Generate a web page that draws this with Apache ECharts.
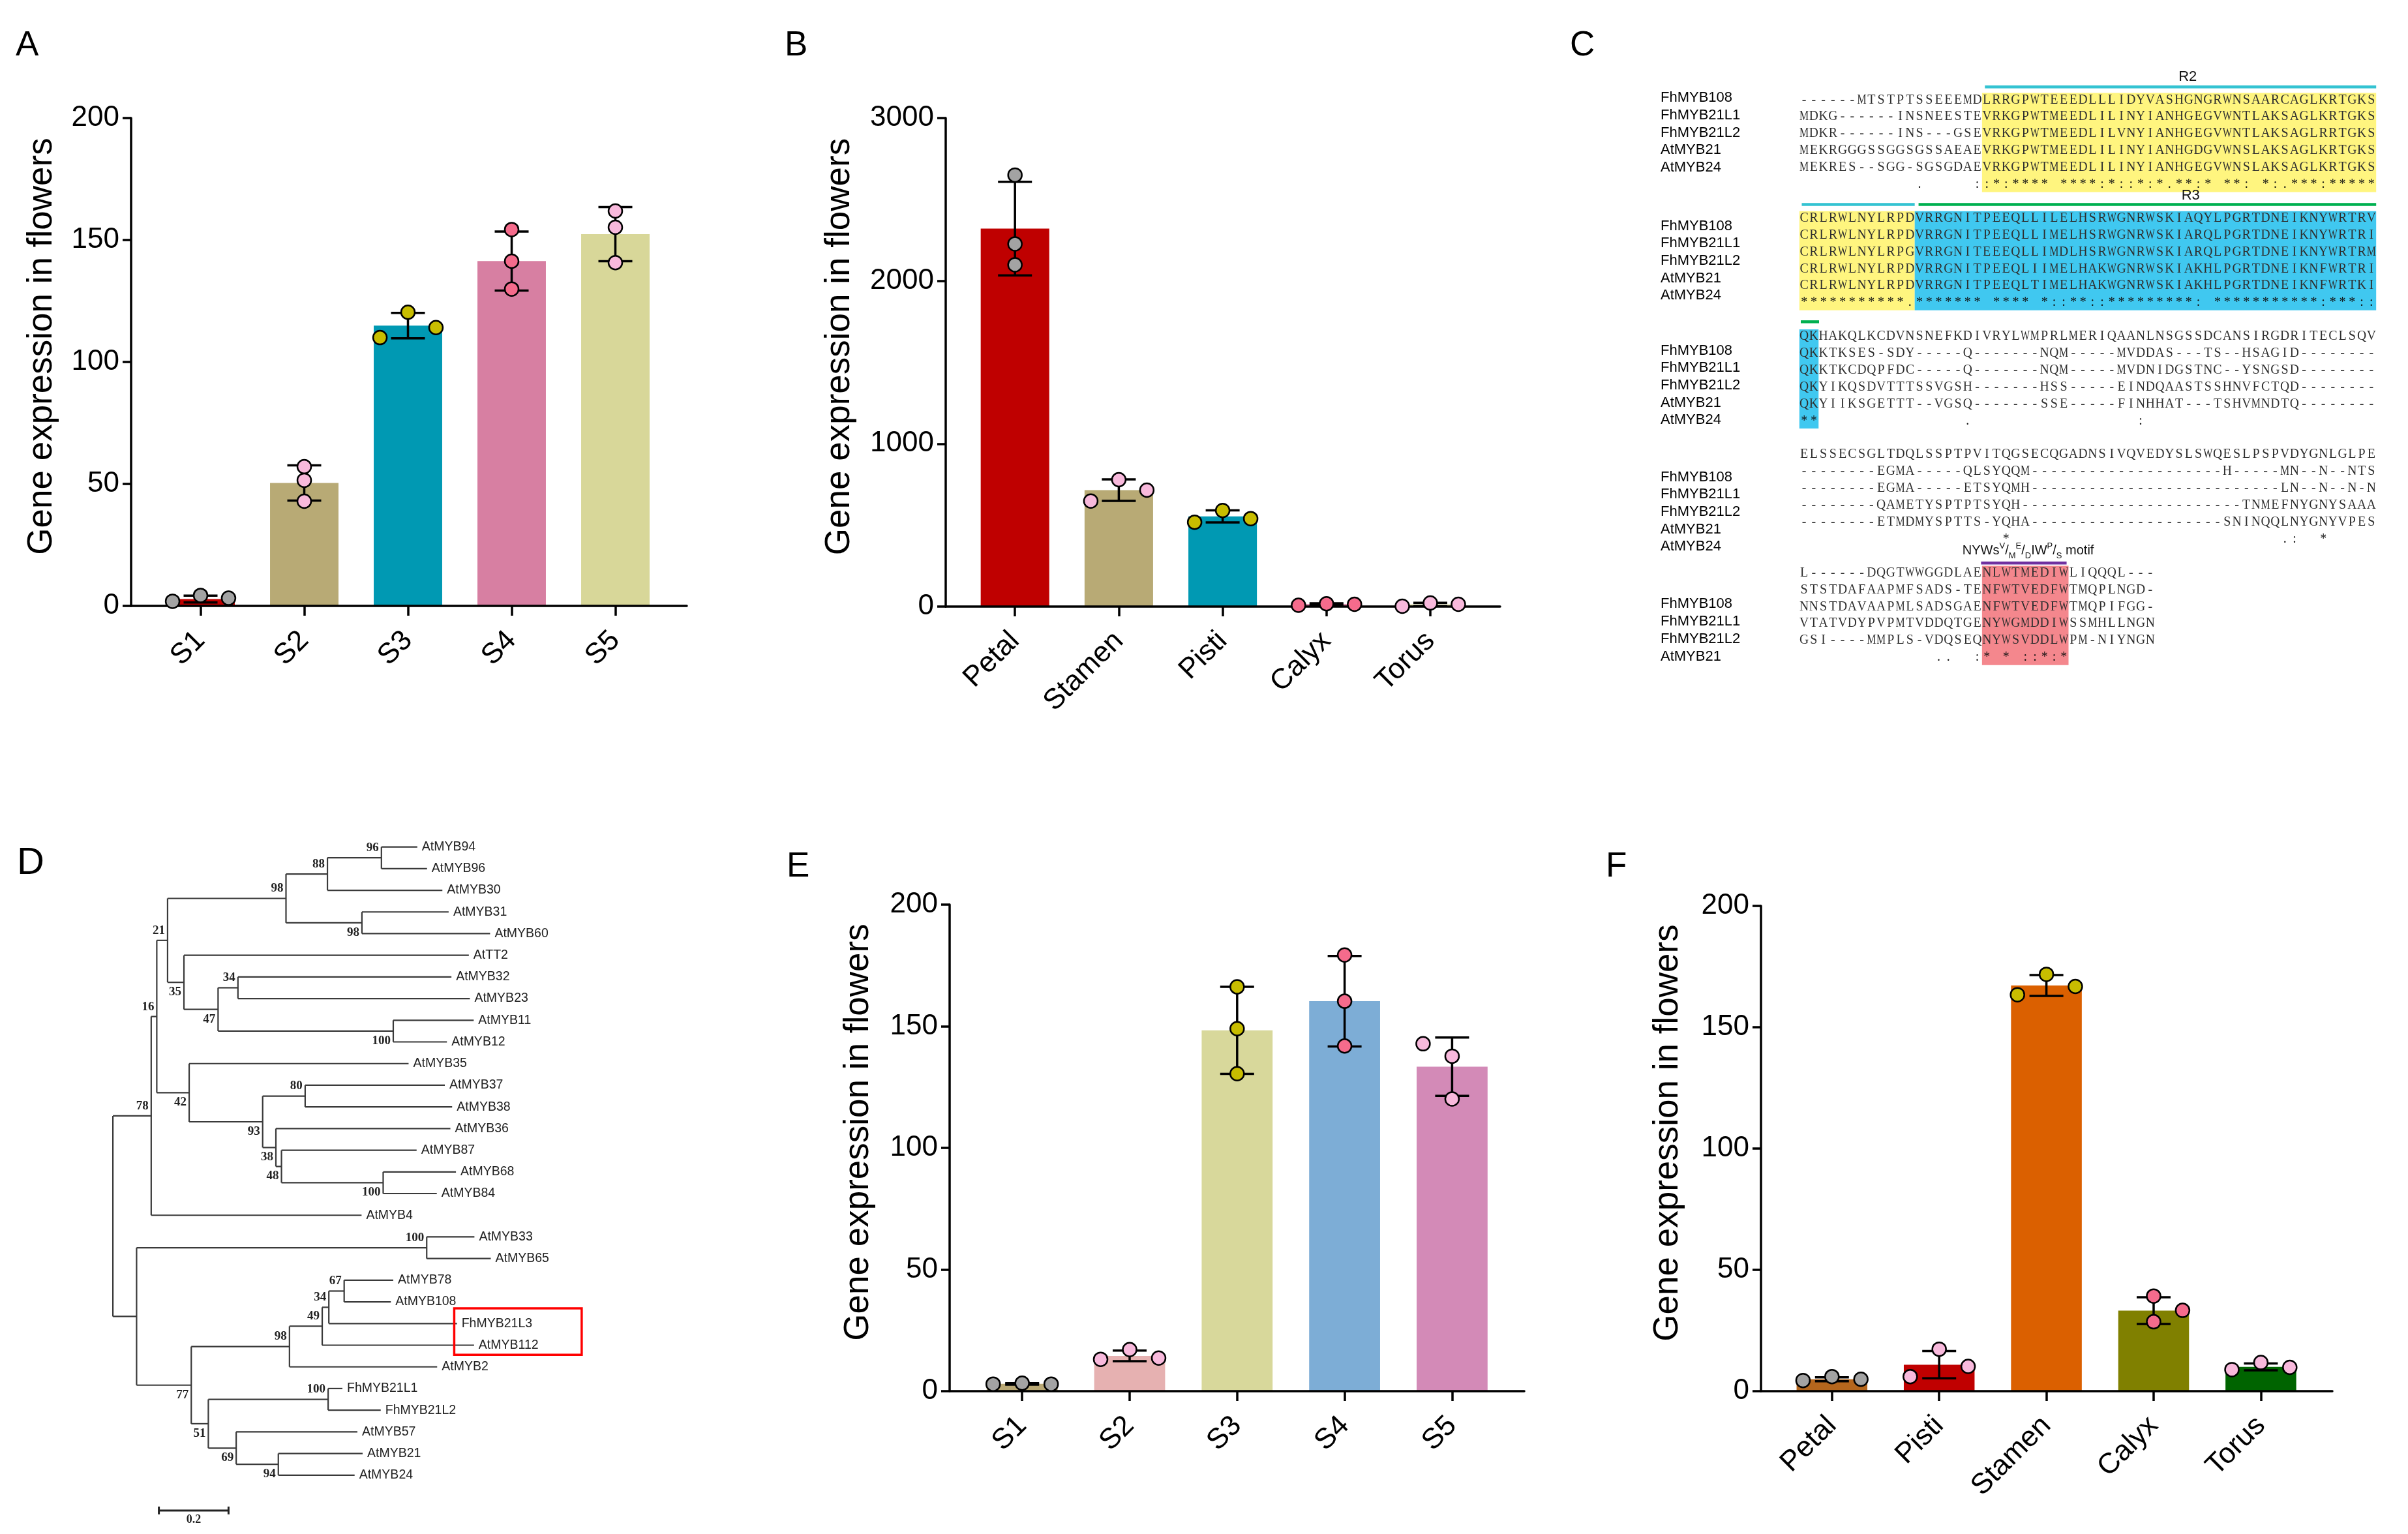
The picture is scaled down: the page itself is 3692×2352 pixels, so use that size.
<!DOCTYPE html>
<html>
<head>
<meta charset="utf-8">
<title>MYB21 expression, alignment and tree</title>
<script src="https://cdn.jsdelivr.net/npm/echarts@6/dist/echarts.min.js"></script>
</head>
<body style="margin:0;background:#fff">
<div id="main" style="width:3692px;height:2352px"></div>
<script>
var FONT = 'Liberation Sans';

// ---------- bar chart data ----------
var stageCats = ['S1', 'S2', 'S3', 'S4', 'S5'];
var tissueCatsB = ['Petal', 'Stamen', 'Pisti', 'Calyx', 'Torus'];
var tissueCatsF = ['Petal', 'Pisti', 'Stamen', 'Calyx', 'Torus'];

var meanA = [2.8, 50.4, 114.9, 141.4, 152.4];
var sdA = [1.4, 7.2, 5.2, 12.1, 11.1];
var repsA = [[1.9, 4.3, 3.2], [57.1, 51.5, 42.9], [120.4, 114.1, 110.0], [154.3, 141.3, 129.9], [161.9, 155.2, 140.7]];

var meanB = [2321, 715, 554, 15, 13];
var sdB = [287, 66, 37, 5, 10];
var repsB = [[2650, 2227, 2099], [648, 779, 715], [518, 590, 540], [8, 17, 14], [2, 22, 14]];

var meanE = [3.0, 14.5, 148.3, 160.3, 133.4];
var sdE = [0.3, 2.2, 17.9, 18.6, 12.0];
var repsE = [[2.9, 3.3, 2.9], [13.1, 17.1, 13.6], [166.2, 149.0, 130.5], [179.3, 160.3, 141.9], [142.8, 137.7, 120.1]];

var meanF = [4.9, 10.9, 167.2, 33.2, 10.0];
var sdF = [0.8, 5.6, 4.3, 5.5, 1.4];
var repsF = [[4.4, 6.0, 4.9], [6.0, 17.3, 10.2], [163.4, 171.8, 166.8], [39.2, 28.6, 33.3], [8.9, 11.8, 9.8]];

// y axis ticks: max and step
var yAxisA = [200, 50], yAxisB = [3000, 1000], yAxisE = [200, 50], yAxisF = [200, 50];

// where each replicate dot sits in its band (-1 left, 0 middle, 1 right)
var jitA = [[-1, 0, 1], [0, 0, 0], [0, 1, -1], [0, 0, 0], [0, 0, 0]];
var jitB = [[0, 0, 0], [-1, 0, 1], [-1, 0, 1], [-1, 0, 1], [-1, 0, 1]];
var jitE = [[-1, 0, 1], [-1, 0, 1], [0, 0, 0], [0, 0, 0], [-1, 0, 0]];
var jitF = [[-1, 0, 1], [-1, 0, 1], [-1, 0, 1], [0, 0, 1], [-1, 0, 1]];

var barColA = ['#c00000', '#b8aa75', '#0099b3', '#d77fa2', '#d8d799'];
var barColB = ['#bf0000', '#b8aa75', '#0099b3', '#d77fa2', '#d8d799'];
var barColE = ['#b9a874', '#e6b1b1', '#d8d89b', '#7dadd6', '#d38ab7'];
var barColF = ['#b4661d', '#c00000', '#db6000', '#808000', '#006400'];
var dotCol = ['#a3a3a3', '#f8b9dc', '#c8bd00', '#f56b8c', '#f8b9dc'];

// ---------- alignment (panel C) ----------
var alnNames = ['FhMYB108', 'FhMYB21L1', 'FhMYB21L2', 'AtMYB21', 'AtMYB24'];
var alnBlock1 = [
  '------MTSTPTSSEEEMDLRRGPWTEEEDLLLIDYVASHGNGRWNSAARCAGLKRTGKS',
  'MDKG------INSNEESTEVRKGPWTMEEDLILINYIANHGEGVWNTLAKSAGLKRTGKS',
  'MDKR------INS---GSEVRKGPWTMEEDLILVNYIANHGEGVWNTLAKSAGLRRTGKS',
  'MEKRGGGSSGGSGSSAEAEVRKGPWTMEEDLILINYIANHGDGVWNSLAKSAGLKRTGKS',
  'MEKRES--SGG-SGSGDAEVRKGPWTMEEDLILINYIANHGEGVWNSLAKSAGLKRTGKS'];
var alnCons1 = '            .     ::*:**** ****:*::*:*.**:* **: *:.***:*****';
var alnBlock2 = [
  'CRLRWLNYLRPDVRRGNITPEEQLLILELHSRWGNRWSKIAQYLPGRTDNEIKNYWRTRV',
  'CRLRWLNYLRPDVRRGNITPEEQLLIMELHSRWGNRWSKIARQLPGRTDNEIKNYWRTRI',
  'CRLRWLNYLRPGVRRGNITEEEQLLIMDLHSRWGNRWSKIARQLPGRTDNEIKNYWRTRM',
  'CRLRWLNYLRPDVRRGNITPEEQLIIMELHAKWGNRWSKIAKHLPGRTDNEIKNFWRTRI',
  'CRLRWLNYLRPDVRRGNITPEEQLTIMELHAKWGNRWSKIAKHLPGRTDNEIKNFWRTKI'];
var alnCons2 = '***********.******* **** *::**::*********: ***********:***::';
var alnBlock3 = [
  'QKHAKQLKCDVNSNEFKDIVRYLWMPRLMERIQAANLNSGSSDCANSIRGDRITECLSQV',
  'QKKTKSES-SDY-----Q-------NQM-----MVDDAS---TS--HSAGID--------',
  'QKKTKCDQPFDC-----Q-------NQM-----MVDNIDGSTNC--YSNGSD--------',
  'QKYIKQSDVTTTSSVGSH-------HSS-----EINDQAASTSSHNVFCTQD--------',
  'QKYIIKSGETTT--VGSQ-------SSE-----FINHHAT---TSHVMNDTQ--------'];
var alnCons3 = '**               .                 :';
var alnBlock4 = [
  'ELSSECSGLTDQLSSPTPVITQGSECQGADNSIVQVEDYSLSWQESLPSPVDYGNLGLPE',
  '--------EGMA-----QLSYQQM' + '----------' + '----------' + 'H-----MN--N--NTS',
  '--------EGMA-----ETSYQMH' + '----------' + '----------' + '------' + 'LN--N--N-N',
  '--------QAMETYSPTPTSYQH' + '----------' + '----------' + '---' + 'TNMEFNYGNYSAAA',
  '--------ETMDMYSPTTS-YQHA' + '----------' + '----------' + 'SNINQQLNYGNYVPES'];
var alnCons4 = '                     *                            .:  *';
var alnBlock5 = [
  'L------DQGTWWGGDLAENLWTMEDIWLIQQQL---',
  'STSTDAFAAPMFSADS-TENFWTVEDFWTMQPLNGD-',
  'NNSTDAVAAPMLSADSGAENFWTVEDFWTMQPIFGG-',
  'VTATVDYPVPMTVDDQTGENYWGMDDIWSSMHLLNGN',
  'GSI----MMPLS-VDQSEQNYWSVDDLWPM-NIYNGN'];
var alnCons5 = '              ..  :* * ::*:*';
// shaded column ranges: [block, fromCol, toCol, colour]
var alnShade = [[0, 19, 60, '#fff57f'], [1, 0, 12, '#fff57f'], [1, 12, 60, '#40c8f0'], [2, 0, 2, '#40c8f0'], [4, 19, 28, '#f4878d']];
// domain bars: [block, fromCol, toCol, colour]
var alnDomains = [[0, 19.3, 60, '#34c3d2'], [1, 0.25, 12, '#34c3d2'], [1, 12.4, 60, '#00b050'], [2, 0.15, 2.05, '#00b050'], [4, 18.9, 27.8, '#7030a0']];

// ---------- phylogenetic tree (panel D) ----------
var treeNewick =
  '(((((((AtMYB94:0.103,AtMYB96:0.131)96:0.155,AtMYB30:0.330)88:0.119,' +
  '(AtMYB31:0.249,AtMYB60:0.368)98:0.218)98:0.340,' +
  '(AtTT2:0.818,((AtMYB32:0.613,AtMYB23:0.666)34:0.057,' +
  '(AtMYB11:0.231,AtMYB12:0.154)100:0.503)47:0.098)35:0.047)21:0.031,' +
  '(AtMYB35:0.630,((AtMYB37:0.401,AtMYB38:0.422)80:0.122,' +
  '(AtMYB36:0.501,(AtMYB87:0.388,(AtMYB68:0.209,AtMYB84:0.154)100:0.292)48:0.016)38:0.038)93:0.211)42:0.093)16:0.016,' +
  'AtMYB4:0.604)78:0.110,' +
  '((AtMYB33:0.137,AtMYB65:0.184)100:0.833,' +
  '(((((AtMYB78:0.141,AtMYB108:0.134)67:0.044,FhMYB21L3:0.368)34:0.019,AtMYB112:0.436)49:0.094,AtMYB2:0.424)98:0.282,' +
  '((FhMYB21L1:0.041,FhMYB21L2:0.151)100:0.344,(AtMYB57:0.348,(AtMYB21:0.242,AtMYB24:0.219)94:0.121)69:0.080)51:0.049)77:0.157):0.068);';
var boxedLeaves = ['FhMYB21L3', 'AtMYB112'];

[alnBlock1, alnBlock2, alnBlock3, alnBlock4].forEach(function (b) {
  b.forEach(function (s) { if (s.length !== 60) throw new Error('bad row ' + s); });
});
alnBlock5.forEach(function (s) { if (s.length !== 37) throw new Error('bad row ' + s); });

function parseNewick(s) {
  var i = 0;
  function node() {
    var n = { children: [], name: '', len: 0 };
    if (s[i] === '(') {
      i++;
      n.children.push(node());
      while (s[i] === ',') { i++; n.children.push(node()); }
      i++;
    }
    var j = i;
    while (i < s.length && ':,);'.indexOf(s[i]) < 0) i++;
    n.name = s.slice(j, i);
    if (s[i] === ':') {
      i++; j = i;
      while (i < s.length && ',);'.indexOf(s[i]) < 0) i++;
      n.len = parseFloat(s.slice(j, i));
    }
    return n;
  }
  return node();
}
var treeRoot = parseNewick(treeNewick);
var leafNo = 0;
function layoutTree(n, depth) {
  n.x = depth + n.len;
  if (!n.children.length) {
    n.y = leafNo++;
  } else {
    n.children.forEach(function (c) { layoutTree(c, n.x); });
    n.y = (n.children[0].y + n.children[n.children.length - 1].y) / 2;
  }
}
layoutTree(treeRoot, 0);

// ---------- bar panels ----------
var panels = [
  { cats: stageCats, mean: meanA, sd: sdA, reps: repsA, jit: jitA, bar: barColA, y: yAxisA,
    frame: [201, 181, 852, 748], band: [228, 795], gap: 110 },
  { cats: tissueCatsB, mean: meanB, sd: sdB, reps: repsB, jit: jitB, bar: barColB, y: yAxisB,
    frame: [1450, 181, 850, 749], band: [1476.6, 796], gap: 136 },
  { cats: stageCats, mean: meanE, sd: sdE, reps: repsE, jit: jitE, bar: barColE, y: yAxisE,
    frame: [1456, 1387, 881, 746], band: [1484.8, 824], gap: 113 },
  { cats: tissueCatsF, mean: meanF, sd: sdF, reps: repsF, jit: jitF, bar: barColF, y: yAxisF,
    frame: [2700, 1389, 876, 744], band: [2726.6, 822], gap: 116 }
];

function errRender(params, api) {
  var x = api.value(0), m = api.value(1), s = api.value(2);
  var top = api.coord([x, m + s]);
  var bot = api.coord([x, m - s]);
  var hw = 26;
  var st = { stroke: '#000', lineWidth: 3.5 };
  return { type: 'group', children: [
    { type: 'line', shape: { x1: top[0], y1: top[1], x2: bot[0], y2: bot[1] }, style: st },
    { type: 'line', shape: { x1: top[0] - hw, y1: top[1], x2: top[0] + hw, y2: top[1] }, style: st },
    { type: 'line', shape: { x1: bot[0] - hw, y1: bot[1], x2: bot[0] + hw, y2: bot[1] }, style: st }
  ] };
}

var grids = [], xAxes = [], yAxes = [], series = [];
panels.forEach(function (p) {
  var g = grids.length;
  grids.push({ left: p.frame[0], top: p.frame[1], width: p.frame[2], height: p.frame[3], containLabel: false, outerBoundsMode: 'none' });
  grids.push({ left: p.band[0], top: p.frame[1], width: p.band[1], height: p.frame[3], containLabel: false, outerBoundsMode: 'none' });
  xAxes.push({ gridIndex: g, type: 'value', min: 0, max: 1, z: 3,
    axisLine: { show: true, onZero: false, lineStyle: { color: '#000', width: 3.5 } },
    axisTick: { show: false }, axisLabel: { show: false }, splitLine: { show: false } });
  var xCat = xAxes.length;
  xAxes.push({ gridIndex: g + 1, type: 'category', data: p.cats, z: 3,
    axisLine: { show: false },
    axisTick: { show: true, alignWithLabel: true, length: 15, lineStyle: { color: '#000', width: 3.5 } },
    axisLabel: { rotate: 45, margin: 46, fontSize: 44, color: '#000', fontFamily: FONT, interval: 0 },
    splitLine: { show: false } });
  var xVal = xAxes.length;
  xAxes.push({ gridIndex: g + 1, type: 'value', min: -0.5, max: 4.5, show: false });
  yAxes.push({ gridIndex: g, type: 'value', min: 0, max: p.y[0], interval: p.y[1], z: 3,
    name: 'Gene expression in flowers', nameLocation: 'middle', nameRotate: 90, nameGap: p.gap,
    nameTextStyle: { fontSize: 53, color: '#000', fontFamily: FONT, padding: [0, 0, 0, 48] },
    axisLine: { show: true, onZero: false, lineStyle: { color: '#000', width: 3.5 } },
    axisTick: { show: true, length: 13, lineStyle: { color: '#000', width: 3.5 } },
    axisLabel: { fontSize: 44, margin: 18, color: '#000', fontFamily: FONT,
      formatter: function (v) { return String(v); } },
    splitLine: { show: false } });
  var yVal = yAxes.length;
  yAxes.push({ gridIndex: g + 1, type: 'value', min: 0, max: p.y[0], show: false });

  series.push({ type: 'bar', xAxisIndex: xCat, yAxisIndex: yVal, barWidth: '66%', z: 2, silent: true,
    data: p.mean.map(function (v, i) { return { value: v, itemStyle: { color: p.bar[i] } }; }) });
  series.push({ type: 'custom', xAxisIndex: xVal, yAxisIndex: yVal, z: 4, silent: true,
    renderItem: errRender, encode: { x: 0, y: 1 },
    data: p.mean.map(function (v, i) { return [i, v, p.sd[i]]; }) });
  var dots = [];
  p.reps.forEach(function (r, i) {
    r.forEach(function (v, k) {
      dots.push({ value: [i + p.jit[i][k] * 0.27, v], itemStyle: { color: dotCol[i] } });
    });
  });
  series.push({ type: 'scatter', xAxisIndex: xVal, yAxisIndex: yVal, z: 5, silent: true,
    symbol: 'circle', symbolSize: 21, data: dots,
    itemStyle: { borderColor: '#000', borderWidth: 2.5, opacity: 1 } });
});

// ---------- tree grid ----------
var gTree = grids.length;
grids.push({ left: 173.1, top: 1298.6, width: 801, height: 963.2, containLabel: false, outerBoundsMode: 'none' });
var xTree = xAxes.length;
xAxes.push({ gridIndex: gTree, type: 'value', min: 0, max: 1.5, show: false });
var yTree = yAxes.length;
yAxes.push({ gridIndex: gTree, type: 'value', min: 0, max: 29, inverse: true, show: false });

function treeRender(params, api) {
  var els = [];
  var ls = { stroke: '#3a3a3a', lineWidth: 2.2 };
  function seg(a, b) { els.push({ type: 'line', shape: { x1: a[0], y1: a[1], x2: b[0], y2: b[1] }, style: ls }); }
  function walk(n, first) {
    var p = api.coord([n.x, n.y]);
    if (n.children.length) {
      seg(api.coord([n.x, n.children[0].y]), api.coord([n.x, n.children[n.children.length - 1].y]));
      n.children.forEach(function (c, i) {
        seg(api.coord([n.x, c.y]), api.coord([c.x, c.y]));
        walk(c, i === 0);
      });
      if (n.name) {
        els.push({ type: 'text', style: { text: n.name, x: p[0] - 4, y: p[1] + (first ? -15 : 15),
          align: 'right', verticalAlign: 'middle', fontSize: 19, fontWeight: 'bold',
          fontFamily: 'Liberation Serif', fill: '#222' } });
      }
    } else {
      els.push({ type: 'text', style: { text: n.name, x: p[0] + 7, y: p[1], align: 'left', verticalAlign: 'middle',
        fontSize: 19.5, fontFamily: FONT, fill: '#222' } });
    }
  }
  walk(treeRoot, true);
  // box round the highlighted pair
  var ys = [];
  (function find(n) {
    if (!n.children.length && boxedLeaves.indexOf(n.name) >= 0) ys.push(n.y);
    n.children.forEach(find);
  })(treeRoot);
  var b0 = api.coord([0.98, Math.min.apply(null, ys) - 0.7]);
  var b1 = api.coord([1.346, Math.max.apply(null, ys) + 0.44]);
  els.push({ type: 'rect', shape: { x: b0[0], y: b0[1], width: b1[0] - b0[0], height: b1[1] - b0[1] },
    style: { fill: null, stroke: '#ff0000', lineWidth: 3.5 } });
  // scale bar 0.2
  var s0 = api.coord([0.132, 30.63]), s1 = api.coord([0.332, 30.63]);
  var bs = { stroke: '#222', lineWidth: 3 };
  els.push({ type: 'line', shape: { x1: s0[0], y1: s0[1], x2: s1[0], y2: s1[1] }, style: bs });
  els.push({ type: 'line', shape: { x1: s0[0], y1: s0[1] - 6, x2: s0[0], y2: s0[1] + 6 }, style: bs });
  els.push({ type: 'line', shape: { x1: s1[0], y1: s1[1] - 6, x2: s1[0], y2: s1[1] + 6 }, style: bs });
  els.push({ type: 'text', style: { text: '0.2', x: (s0[0] + s1[0]) / 2, y: s0[1] + 14, align: 'center', verticalAlign: 'middle',
    fontSize: 18, fontWeight: 'bold', fontFamily: 'Liberation Serif', fill: '#222' } });
  return { type: 'group', children: els };
}
series.push({ type: 'custom', xAxisIndex: xTree, yAxisIndex: yTree, silent: true, renderItem: treeRender, data: [[0, 0]] });

// ---------- alignment grid ----------
var gAln = grids.length;
grids.push({ left: 2758.8, top: 153.3, width: 884.4, height: 854.7, containLabel: false, outerBoundsMode: 'none' });
var xAln = xAxes.length;
xAxes.push({ gridIndex: gAln, type: 'value', min: 0, max: 60, show: false });
var yAln = yAxes.length;
yAxes.push({ gridIndex: gAln, type: 'value', min: 0, max: 33, inverse: true, show: false });

var alnBlocks = [alnBlock1, alnBlock2, alnBlock3, alnBlock4, alnBlock5];
var alnCons = [alnCons1, alnCons2, alnCons3, alnCons4, alnCons5];
var alnNameShift = [-0.12, 0.46, 0.84, 1.33, 1.85];
var alnNameCount = [5, 5, 5, 5, 4];
var measureCtx = document.createElement('canvas').getContext('2d');
measureCtx.font = '20px "Liberation Serif"';

function alnRender(params, api) {
  var els = [];
  var colW = api.coord([1, 0])[0] - api.coord([0, 0])[0];
  function L(b) { return b * 7; }
  alnShade.forEach(function (s) {
    var a = api.coord([s[1], L(s[0]) - 0.42]), b = api.coord([s[2], L(s[0]) + 5.45]);
    els.push({ type: 'rect', shape: { x: a[0], y: a[1], width: b[0] - a[0], height: b[1] - a[1] }, style: { fill: s[3] } });
  });
  var domY = [-0.77, -0.81, -0.81, -0.87, -0.59];
  alnDomains.forEach(function (d, i) {
    var a = api.coord([d[1], L(d[0]) + domY[i]]), b = api.coord([d[2], L(d[0]) + domY[i]]);
    els.push({ type: 'line', shape: { x1: a[0], y1: a[1], x2: b[0], y2: b[1] }, style: { stroke: d[3], lineWidth: 4.5 } });
  });
  var r2 = api.coord([40.4, -1.36]), r3 = api.coord([40.7, 5.67]);
  [[r2, 'R2'], [r3, 'R3']].forEach(function (t) {
    els.push({ type: 'text', style: { text: t[1], x: t[0][0], y: t[0][1], align: 'center', verticalAlign: 'middle',
      fontSize: 22, fontFamily: FONT, fill: '#111' } });
  });
  var mp = api.coord([23.8, 26.7]);
  els.push({ type: 'text', style: {
    text: '{a|NYWs}{p|V}{a|/}{b|M}{p|E}{a|/}{b|D}{a|IW}{p|P}{a|/}{b|S}{a| motif}',
    x: mp[0], y: mp[1], align: 'center', verticalAlign: 'middle',
    rich: {
      a: { fontSize: 20, fontFamily: FONT, fill: '#111', lineHeight: 28 },
      p: { fontSize: 13, fontFamily: FONT, fill: '#111', verticalAlign: 'top', lineHeight: 28 },
      b: { fontSize: 13, fontFamily: FONT, fill: '#111', verticalAlign: 'bottom', lineHeight: 28 }
    } } });
  function drawRow(str, line, color) {
    for (var c = 0; c < str.length; c++) {
      var ch = str[c];
      if (ch === ' ') continue;
      var pt = api.coord([c + 0.5, line]);
      var w = measureCtx.measureText(ch).width;
      var sx = Math.min(1, (colW * 0.96) / w);
      els.push({ type: 'text', x: pt[0], y: pt[1], scaleX: sx,
        style: { text: ch, x: 0, y: 0, align: 'center', verticalAlign: 'middle',
          fontSize: 20, fontFamily: 'Liberation Serif', fill: color } });
    }
  }
  alnBlocks.forEach(function (rows, b) {
    rows.forEach(function (s, r) { drawRow(s, L(b) + r, '#2e2e2e'); });
    drawRow(alnCons[b], L(b) + 5, '#111');
    for (var k = 0; k < alnNameCount[b]; k++) {
      var np = api.coord([-14.44, L(b) + alnNameShift[b] + k * 1.03]);
      els.push({ type: 'text', style: { text: alnNames[k], x: np[0], y: np[1], align: 'left', verticalAlign: 'middle',
        fontSize: 22, fontFamily: FONT, fill: '#000' } });
    }
  });
  return { type: 'group', children: els };
}
series.push({ type: 'custom', xAxisIndex: xAln, yAxisIndex: yAln, silent: true, renderItem: alnRender, data: [[0, 0]] });

// ---------- panel letters ----------
var letters = [['A', 24, 44, 53], ['B', 1203, 44, 53], ['C', 2407, 44, 53],
               ['D', 26, 1295, 58], ['E', 1206, 1303, 53], ['F', 2462, 1303, 53]];

var chart = echarts.init(document.getElementById('main'));
chart.setOption({
  animation: false,
  backgroundColor: '#fff',
  textStyle: { fontFamily: FONT },
  title: letters.map(function (l) {
    return { text: l[0], left: l[1], top: l[2], padding: 0,
      textStyle: { fontSize: l[3], fontWeight: 'normal', color: '#000', fontFamily: FONT } };
  }),
  grid: grids,
  xAxis: xAxes,
  yAxis: yAxes,
  series: series
});
</script>
</body>
</html>
